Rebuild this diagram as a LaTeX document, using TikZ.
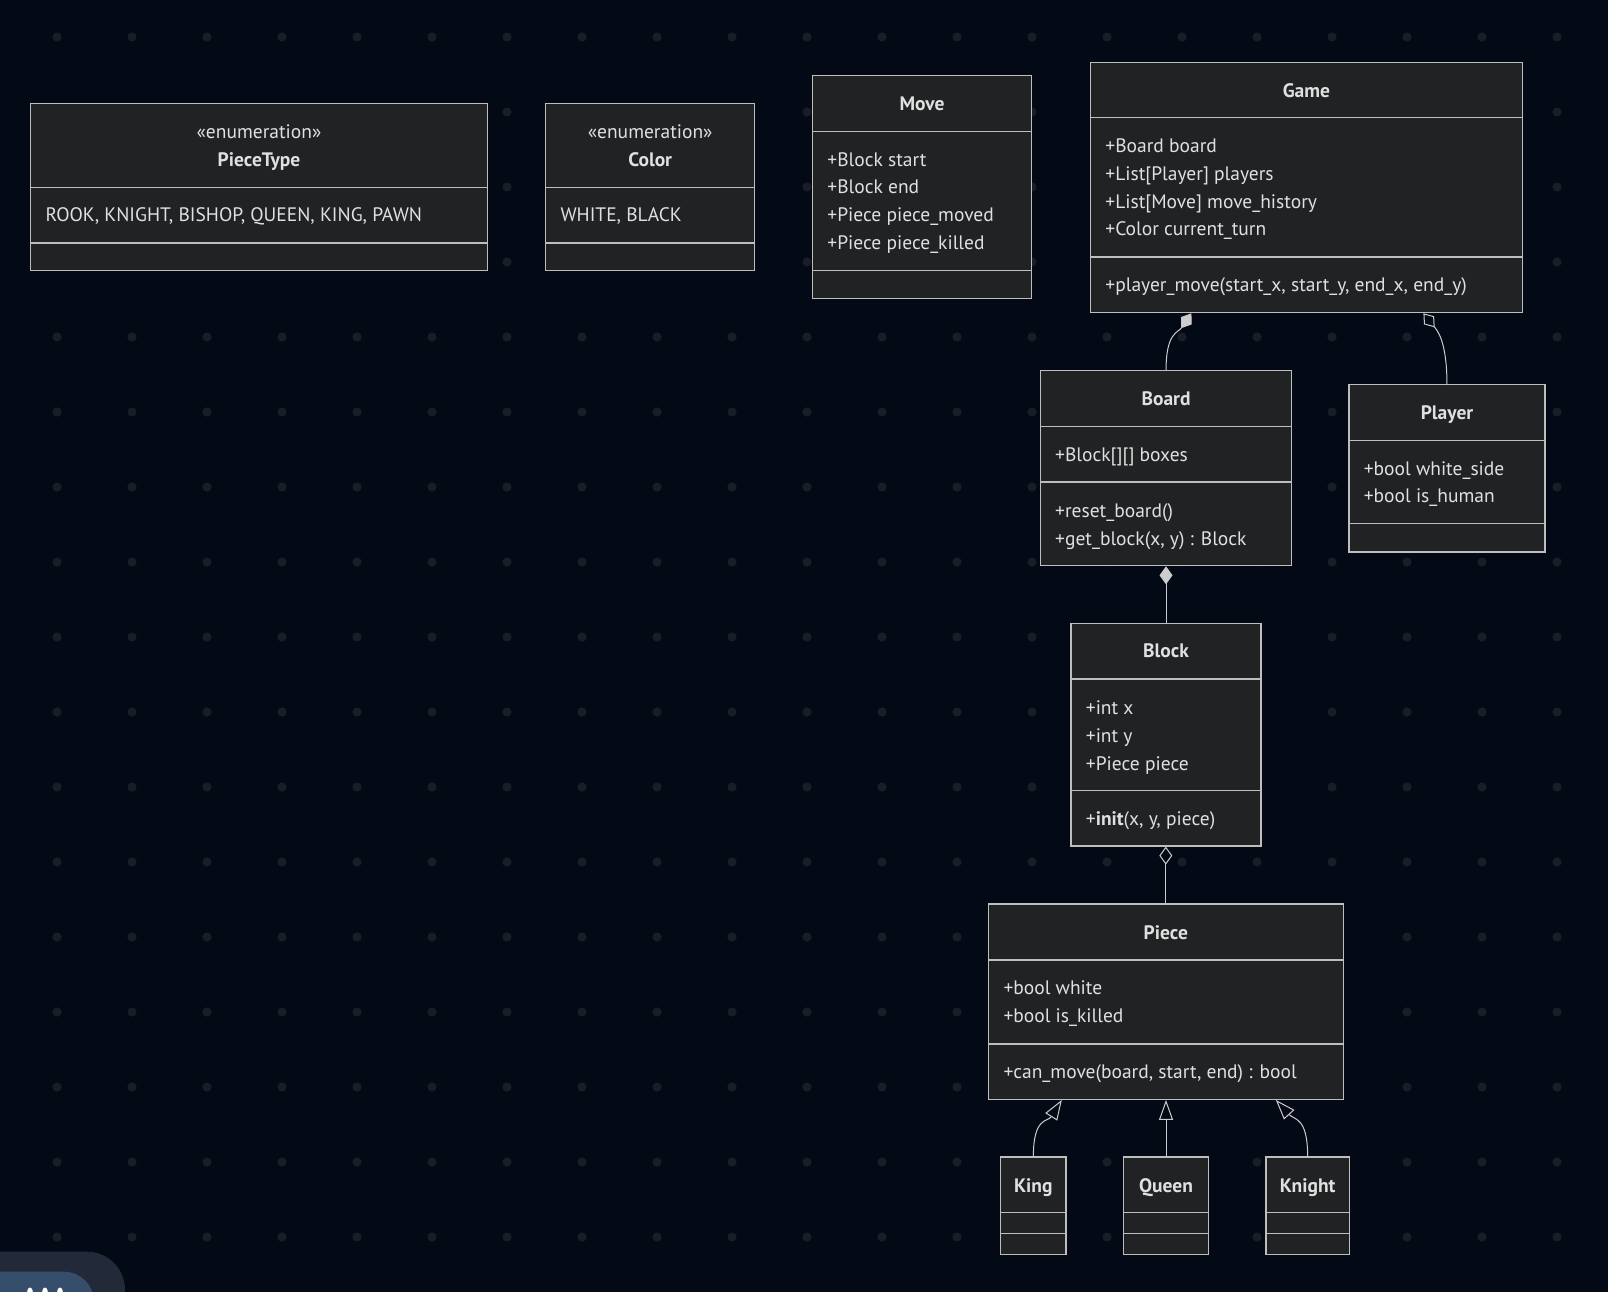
\documentclass[tikz,border=0pt]{standalone}
\usepackage{fontspec}
\setmainfont{PT Sans}
\usetikzlibrary{arrows.meta,fit}

\definecolor{canvas}{RGB}{4,9,22}
\definecolor{griddot}{RGB}{26,29,38}
\definecolor{boxfill}{RGB}{33,34,35}
\definecolor{boxline}{RGB}{190,190,190}
\definecolor{ink}{RGB}{224,224,224}
\definecolor{wire}{RGB}{204,204,204}
\definecolor{btnback}{RGB}{34,42,58}
\definecolor{btnfront}{RGB}{52,78,107}

\tikzset{
  classbox/.style={draw=boxline, fill=boxfill, line width=1.2pt, inner sep=0pt},
  divider/.style={draw=boxline, line width=1.2pt},
  classtitle/.style={text=ink, font=\fontsize{19.5}{23}\selectfont\bfseries, inner sep=0pt, text height=13.5pt, text depth=0pt},
  stereotype/.style={text=ink, font=\fontsize{19.5}{23}\selectfont, inner sep=0pt, text height=13.5pt, text depth=0pt},
  member/.style={text=ink, font=\fontsize{19.5}{23}\selectfont, inner sep=0pt, text height=13.5pt, text depth=0pt, anchor=west},
  connector/.style={draw=wire, line width=1pt},
  composition/.style={connector, -{Diamond[length=18pt,width=13pt]}},
  aggregation/.style={connector, -{Diamond[open,length=18pt,width=13pt]}},
  inherits/.style={connector, -{Triangle[open,length=20pt,width=14pt]}},
}

% class box: name, left, top, right, bottom, first divider, second divider
\newcommand{\umlclass}[7]{%
  \node[classbox, fit={(#2,#3) (#4,#5)}] (#1) {};
  \draw[divider] (#2,#6) -- (#4,#6);
  \draw[divider] (#2,#7) -- (#4,#7);
}
% text lines of a compartment, 27.8 apart
\newcommand{\umllines}[4]{%
  \foreach \row [count=\k] in {#4}
    \node[member] (#1-\k) at (#2, #3+27.8*\k-27.8) {\row};
}

\begin{document}
\begin{tikzpicture}[x=1pt, y=-1pt]

  % Canvas
  \fill[canvas] (0,0) rectangle (1608,1292);
  \useasboundingbox (0,0) rectangle (1608,1292);
  \foreach \gx in {0,...,20}
    \foreach \gy in {0,...,16}
      \fill[griddot] (57+75*\gx, 37+75*\gy) circle (4.6pt);

  % Enumerations
  \umlclass{piecetype}{30.8}{103.6}{487.1}{270.7}{187.7}{243}
  \node[stereotype] (piecetype-st) at (259,131.7) {«enumeration»};
  \node[classtitle] (piecetype-t) at (259,159.3) {PieceType};
  \umllines{piecetype-a}{45.3}{215}{{ROOK, KNIGHT, BISHOP, QUEEN, KING, PAWN}}

  \umlclass{color}{545.6}{103.6}{754.8}{270.7}{187.7}{243}
  \node[stereotype] (color-st) at (650.2,131.7) {«enumeration»};
  \node[classtitle] (color-t) at (650.2,159.3) {Color};
  \umllines{color-a}{560.3}{215}{{WHITE, BLACK}}

  % Move
  \umlclass{move}{812.2}{75.9}{1031.7}{298.4}{131.3}{270.7}
  \node[classtitle] (move-t) at (922,104) {Move};
  \umllines{move-a}{827.2}{159.3}{+Block start, +Block end, +Piece piece\_moved, +Piece piece\_killed}

  % Game
  \umlclass{game}{1090.2}{62.5}{1522.6}{312.7}{117.7}{257}
  \node[classtitle] (game-t) at (1306.4,90.7) {Game};
  \umllines{game-a}{1105.2}{145.7}{+Board board, +List[Player] players, +List[Move] move\_history, +Color current\_turn}
  \umllines{game-m}{1105.2}{285}{{+player\_move(start\_x, start\_y, end\_x, end\_y)}}

  % Board
  \umlclass{board}{1040.7}{370.7}{1291.4}{565.7}{426.3}{482}
  \node[classtitle] (board-t) at (1166,399) {Board};
  \umllines{board-a}{1055}{454.3}{+Block[][] boxes}
  \umllines{board-m}{1055}{510.7}{+reset\_board(), {+get\_block(x, y) : Block}}

  % Player
  \umlclass{player}{1348.9}{384.7}{1545}{552}{440.3}{523.3}
  \node[classtitle] (player-t) at (1447,412.7) {Player};
  \umllines{player-a}{1363.6}{468.3}{+bool white\_side, +bool is\_human}

  % Block
  \umlclass{block}{1071}{623.3}{1261}{846}{679}{790.3}
  \node[classtitle] (block-t) at (1166,651) {Block};
  \umllines{block-a}{1085.7}{707.7}{+int x, +int y, +Piece piece}
  \umllines{block-m}{1085.7}{819}{{+\textbf{init}(x, y, piece)}}

  % Piece
  \umlclass{piece}{988.3}{904}{1343.3}{1099.3}{960}{1044}
  \node[classtitle] (piece-t) at (1165.8,932.7) {Piece};
  \umllines{piece-a}{1003.3}{987.7}{+bool white, +bool is\_killed}
  \umllines{piece-m}{1003.3}{1071.7}{{+can\_move(board, start, end) : bool}}

  % Subclasses
  \umlclass{king}{1000.7}{1157}{1066}{1254.7}{1212.7}{1233.3}
  \node[classtitle] (king-t) at (1033.3,1185.7) {King};
  \umlclass{queen}{1123.7}{1157}{1208.3}{1254.7}{1212.7}{1233.3}
  \node[classtitle] (queen-t) at (1166,1185.7) {Queen};
  \umlclass{knight}{1266}{1157}{1349.3}{1254.7}{1212.7}{1233.3}
  \node[classtitle] (knight-t) at (1307.7,1185.7) {Knight};

  % Relations
  \draw[composition] (board.north) .. controls ++(0,-38) and (1178,333) .. ([xshift=-115pt]game.south);
  \draw[aggregation] (player.north) .. controls ++(0,-45) and (1436,329) .. ([xshift=117pt]game.south);
  \draw[composition] (block.north) -- (block.north |- board.south);
  \draw[aggregation] (piece.north) -- (piece.north |- block.south);
  \draw[inherits] (king.north) .. controls ++(0,-40) and (1048,1122) .. ([xshift=-104pt]piece.south);
  \draw[inherits] (queen.north) -- (queen.north |- piece.south);
  \draw[inherits] (knight.north) .. controls ++(0,-40) and (1294,1120) .. ([xshift=110pt]piece.south);

  % Corner button
  \fill[btnback, rounded corners=38pt] (-60,1251.7) rectangle (125,1340);
  \fill[btnfront, rounded corners=30pt] (-60,1271.7) rectangle (94,1340);
  \foreach \bx in {30,45,60}
    \fill[white] (\bx,1291.5) ellipse (2.8pt and 4pt);

\end{tikzpicture}
\end{document}
